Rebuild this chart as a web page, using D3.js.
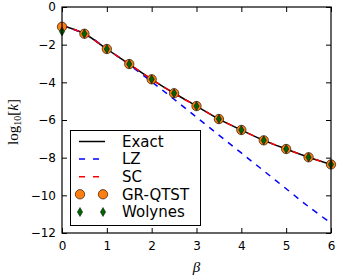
<!DOCTYPE html>
<html><head><meta charset="utf-8">
<script src="https://cdn.jsdelivr.net/npm/d3@7"></script>
<style>body{margin:0;background:#fff}svg{display:block}</style>
</head><body>
<svg id="c" width="337" height="280"></svg>
<script>
const beta = [0,0.5,1,1.5,2,2.5,3,3.5,4,4.5,5,5.5,6];
const exact = [-0.98,-1.42,-2.23,-3.03,-3.84,-4.58,-5.26,-5.95,-6.53,-7.08,-7.54,-7.98,-8.36];
const lz = [-0.98,-1.43,-2.22,-3.07,-3.97,-4.9,-5.85,-6.8,-7.75,-8.7,-9.65,-10.6,-11.48];
const sc = [-0.98,-1.42,-2.23,-3.03,-3.84,-4.58,-5.26,-5.95,-6.53,-7.08,-7.54,-7.98,-8.36];
const grqtst = [-1.05,-1.42,-2.23,-3.03,-3.84,-4.58,-5.26,-5.95,-6.53,-7.08,-7.54,-7.98,-8.36];
const wolynes = [-1.3,-1.42,-2.23,-3.03,-3.84,-4.58,-5.26,-5.95,-6.53,-7.08,-7.54,-7.98,-8.36];
const xTicks = [0,1,2,3,4,5,6];
const yTicks = [0,-2,-4,-6,-8,-10,-12];
const legendLabels = ["Exact","LZ","SC","GR-QTST","Wolynes"];

const svg = d3.select("#c");
const L=62, R=331, T=7, B=233;
const x = d3.scaleLinear().domain([0,6]).range([L,R]);
const y = d3.scaleLinear().domain([-12,0]).range([B,T]);
const font = "DejaVu Sans";

svg.append("defs").append("clipPath").attr("id","cp")
  .append("rect").attr("x",L).attr("y",T).attr("width",R-L).attr("height",B-T);

const line = d3.line().x((d,i)=>x(beta[i])).y(d=>y(d)).curve(d3.curveCatmullRom);
const g = svg.append("g").attr("clip-path","url(#cp)");
g.append("path").attr("d",line(exact)).attr("fill","none").attr("stroke","#000").attr("stroke-width",1.5);
g.append("path").attr("d",line(lz)).attr("fill","none").attr("stroke","#0000ff").attr("stroke-width",1.5).attr("stroke-dasharray","6,6");
g.append("path").attr("d",line(sc)).attr("fill","none").attr("stroke","#ff0000").attr("stroke-width",1.5).attr("stroke-dasharray","6,6");

const orange="#ff7f0e", green="#006400";
function diamond(sel,cx,cy){
  sel.append("path").attr("d",`M${cx},${cy-4.5}L${cx+2.6},${cy}L${cx},${cy+4.5}L${cx-2.6},${cy}Z`)
    .attr("fill",green).attr("stroke","#000").attr("stroke-width",0.5);
}
const m = svg.append("g");
grqtst.forEach((v,i)=>{
  m.append("circle").attr("cx",x(beta[i])).attr("cy",y(v)).attr("r",4.7)
   .attr("fill",orange).attr("stroke","#000").attr("stroke-width",0.6);
});
wolynes.forEach((v,i)=>diamond(m,x(beta[i]),y(v)));

// axes
const ax = svg.append("g").attr("font-family",font);
ax.append("g").attr("transform",`translate(0,${B})`)
  .call(d3.axisBottom(x).tickValues(xTicks).tickFormat(d3.format("d")).tickSizeInner(-5).tickSizeOuter(0).tickPadding(8));
ax.append("g").attr("transform",`translate(0,${T})`)
  .call(d3.axisTop(x).tickValues(xTicks).tickFormat("").tickSizeInner(-5).tickSizeOuter(0));
ax.append("g").attr("transform",`translate(${L},0)`)
  .call(d3.axisLeft(y).tickValues(yTicks).tickFormat(d3.format("d")).tickSizeInner(-5).tickSizeOuter(0).tickPadding(6));
ax.append("g").attr("transform",`translate(${R},0)`)
  .call(d3.axisRight(y).tickValues(yTicks).tickFormat("").tickSizeInner(-5).tickSizeOuter(0));
ax.selectAll(".domain").remove();
ax.selectAll(".tick line").attr("stroke","#000").attr("stroke-width",1);
ax.selectAll(".tick text").attr("font-size",12).attr("fill","#000").attr("font-family",font);
svg.append("rect").attr("x",L).attr("y",T).attr("width",R-L).attr("height",B-T)
  .attr("fill","none").attr("stroke","#000").attr("stroke-width",1.2);

// labels
svg.append("text").attr("x",(L+R)/2).attr("y",272).attr("text-anchor","middle")
  .attr("font-family","Liberation Serif").attr("font-style","italic").attr("font-size",15).text("β");
const yt = svg.append("text").attr("transform",`translate(18,${(T+B)/2+2}) rotate(-90)`)
  .attr("text-anchor","middle").attr("font-family","Liberation Serif").attr("font-size",15);
yt.append("tspan").text("log");
yt.append("tspan").attr("font-size",10).attr("dy",3).text("10");
yt.append("tspan").attr("dy",-3).text("[");
yt.append("tspan").attr("font-style","italic").text("k");
yt.append("tspan").text("]");

// legend
const lg = svg.append("g").attr("font-family",font);
lg.append("rect").attr("x",70.5).attr("y",130.5).attr("width",130).attr("height",95)
  .attr("fill","#fff").attr("stroke","#000").attr("stroke-width",1);
const rows=[141.5,159,176.7,194.3,212];
const hx0=79, hx1=105;
lg.append("line").attr("x1",hx0).attr("x2",hx1).attr("y1",rows[0]).attr("y2",rows[0]).attr("stroke","#000").attr("stroke-width",1.5);
lg.append("line").attr("x1",hx0).attr("x2",hx1).attr("y1",rows[1]).attr("y2",rows[1]).attr("stroke","#0000ff").attr("stroke-width",1.5).attr("stroke-dasharray","6,8");
lg.append("line").attr("x1",hx0).attr("x2",hx1).attr("y1",rows[2]).attr("y2",rows[2]).attr("stroke","#ff0000").attr("stroke-width",1.5).attr("stroke-dasharray","6,8");
[80,103].forEach(cx=>{
  lg.append("circle").attr("cx",cx).attr("cy",rows[3]).attr("r",4.7).attr("fill",orange).attr("stroke","#000").attr("stroke-width",0.6);
  diamond(lg,cx,rows[4]);
});
legendLabels.forEach((t,i)=>{
  lg.append("text").attr("x",122).attr("y",rows[i]).attr("dy","0.36em").attr("font-size",15).text(t);
});
</script>
</body></html>
